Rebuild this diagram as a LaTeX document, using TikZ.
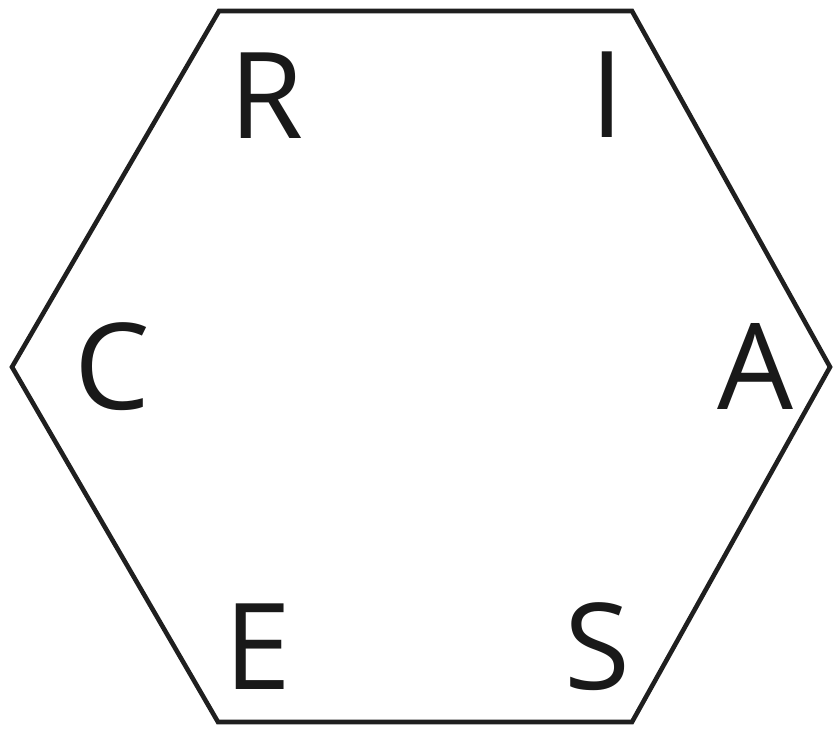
\documentclass[tikz,border=0pt]{standalone}
\usepackage{fontspec}
\setmainfont{Open Sans}
\begin{document}
\begin{tikzpicture}[x=1pt,y=-1pt,
  hexline/.style={draw=black!88,line width=4.6pt,line join=miter},
  letter/.style={anchor=base,inner sep=0pt,text=black!90,font=\fontsize{120}{120}\selectfont}]
\useasboundingbox (0,0) rectangle (834,730);
\coordinate (v1) at (219,11);
\coordinate (v2) at (632,11);
\coordinate (v3) at (830,367);
\coordinate (v4) at (632,722);
\coordinate (v5) at (218,722);
\coordinate (v6) at (12,367);
\draw[hexline] (v1) -- (v2) -- (v3) -- (v4) -- (v5) -- (v6) -- cycle;
\node[letter] (R) at (267,139) {R};
\node[letter] (I) at (607,138) {I};
\node[letter] (C) at (112,409) {C};
\node[letter] (A) at (755,409) {A};
\node[letter] (E) at (258,689) {E};
\node[letter] (S) at (597,689) {S};
\end{tikzpicture}
\end{document}
